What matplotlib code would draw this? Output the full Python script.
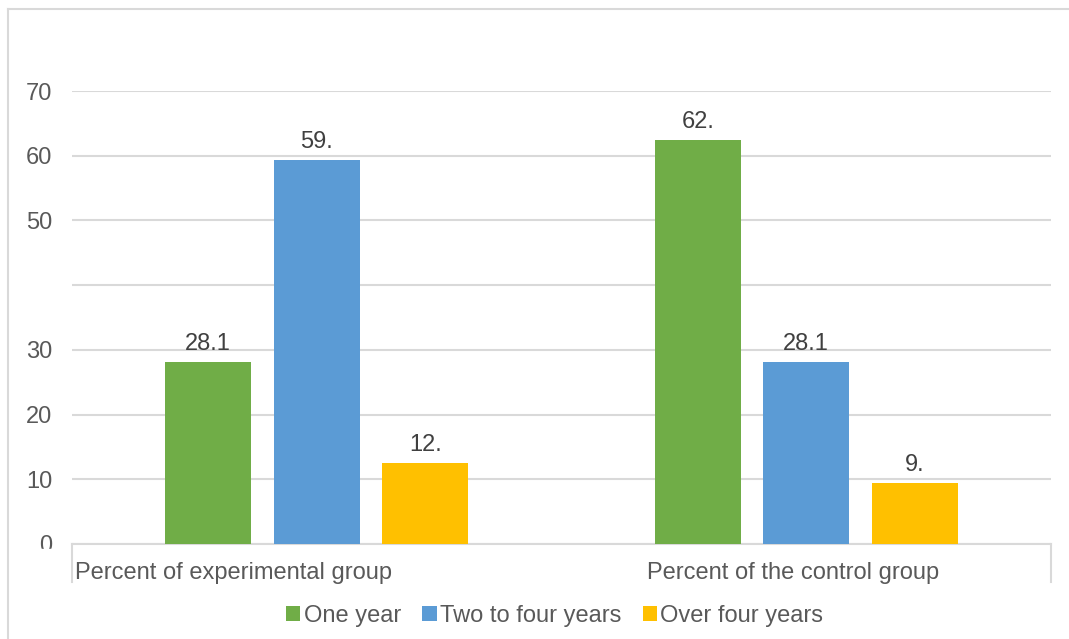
import matplotlib.pyplot as plt
from matplotlib.patches import Rectangle
from matplotlib.lines import Line2D

plt.rcParams['font.family'] = ['Liberation Sans', 'DejaVu Sans']

#data
groups = ["Percent of experimental group", "Percent of the control group"]
series = ["One year", "Two to four years", "Over four years"]
one_year = [28.1, 62.4]
two_to_four = [59.4, 28.1]
over_four = [12.5, 9.4]
value_labels = [["28.1", "62."], ["59.", "28.1"], ["12.", "9."]]
colors = ["#70ad47", "#5b9bd5", "#ffc000"]

W, H = 1069, 639
fig = plt.figure(figsize=(W / 100, H / 100), dpi=100)
ax = fig.add_axes([72 / W, 1 - 544 / H, (1051 - 72) / W, (544 - 91) / H])

bar_w = 0.1757
step = 0.2217
for i, (vals, name) in enumerate(zip([one_year, two_to_four, over_four], series)):
    xs = [g + (i - 1) * step for g in range(len(groups))]
    bars = ax.bar(xs, vals, width=bar_w, color=colors[i], label=name, zorder=3)
    for b, txt in zip(bars, value_labels[i]):
        ax.annotate(txt, (b.get_x() + b.get_width() / 2, b.get_height()),
                    xytext=(0, 5), textcoords='offset points',
                    ha='center', va='bottom', fontsize=17, color='#404040')

ax.set_xlim(-0.5, 1.5)
ax.set_ylim(0, 70)
ax.set_yticks(range(0, 71, 10))
ax.tick_params(axis='y', length=0, pad=14, labelsize=17, labelcolor='#595959')
ax.set_xticks([])
ax.grid(axis='y', color='#d9d9d9', linewidth=1.5, zorder=0)
for s in ['top', 'right', 'left']:
    ax.spines[s].set_visible(False)
ax.spines['bottom'].set_color('#d9d9d9')
ax.spines['bottom'].set_linewidth(1.5)

# edge ticks of the category axis
for xa in [0, 1]:
    ax.plot([xa, xa], [0, -0.084], transform=ax.transAxes, color='#d9d9d9',
            lw=1.5, clip_on=False)

# category labels
ax.text(-0.494, -0.065, groups[0], transform=ax.get_xaxis_transform(),
        ha='left', va='center', fontsize=17, color='#595959')
ax.text(0.675, -0.065, groups[1], transform=ax.get_xaxis_transform(),
        ha='left', va='center', fontsize=17, color='#595959')

# clipped tick labels as in original
fig.patches.append(Rectangle((10 / W, 1 - 294 / H), 55 / W, 20 / H,
                             transform=fig.transFigure, color='white', zorder=5))
fig.patches.append(Rectangle((10 / W, 1 - 575 / H), 55 / W, 26 / H,
                             transform=fig.transFigure, color='white', zorder=5))

# outer frame
fig.add_artist(Line2D([8 / W, 8 / W], [0, 1 - 9 / H], transform=fig.transFigure,
                      color='#d9d9d9', lw=1.5))
fig.add_artist(Line2D([8 / W, 1], [1 - 9 / H, 1 - 9 / H], transform=fig.transFigure,
                      color='#d9d9d9', lw=1.5))

handles, labels = ax.get_legend_handles_labels()
fig.legend(handles, labels, loc='center', bbox_to_anchor=(0.519, 1 - 616 / H), ncol=3,
           frameon=False, fontsize=17, handlelength=0.6, handleheight=0.6,
           handletextpad=0.15, columnspacing=0.9, labelcolor='#595959')

fig.savefig('out.png', dpi=100)
